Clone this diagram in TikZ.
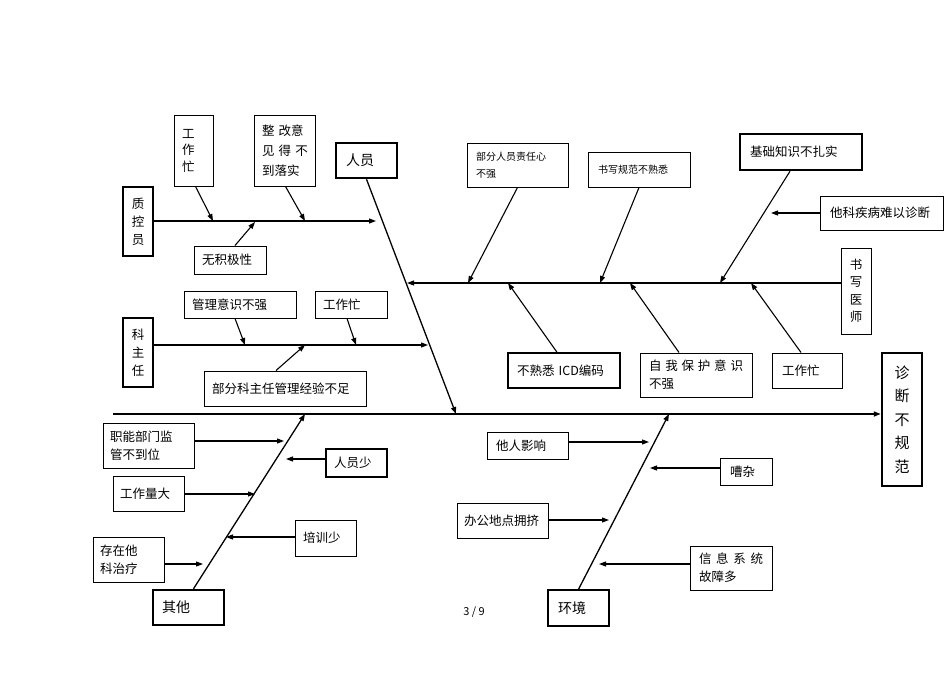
\documentclass[tikz,border=0pt]{standalone}
\usepackage{fontspec}
\setmainfont{Noto Sans CJK SC}
\usepackage{tkz-euclide}
\usetikzlibrary{calc}
\usetikzlibrary{positioning}
\usetikzlibrary{arrows.meta}

\begin{document}
\begin{tikzpicture}[x=1pt, y=-1pt,
    causebox/.style={draw, line width=1pt, inner ysep=0pt, align=left,
      font=\fontsize{12.5}{18}\selectfont},
    headbox/.style={causebox, line width=2.5pt, font=\fontsize{14}{18}\selectfont},
    vertbox/.style={causebox, inner xsep=0pt, align=center},
    arw/.style={line width=1.1pt, -{Triangle[length=7pt,width=5pt]}}]
      \useasboundingbox (0,0) rectangle (950,672);

      \tkzDefPoints{113/414/spS,456/414/ryE,305/414/qtE,669/414/hjE}
      \tkzDefPoints{376/221/zkyE,213/221/a1,305/221/a2,255/222/a3}
      \tkzDefPoints{428/345/kzrE,245/345/b1,356/345/b2,305/345/b3}
      \tkzDefPoints{407/283/sxysE,468/283/c1,600/283/c2,720/283/c3,508/283/c4,630/283/c5,751/283/c6,771/213/c7}
      \tkzDefPoints{284/441/d1,286/459/d2,255/494/d3,226/537/d4,203/564/d5}
      \tkzDefPoints{649/442/e1,650/468/e2,609/520/e3,599/564/e4}

      \node[headbox, minimum height=35pt, inner xsep=10pt, text width=41pt] (ry) at (366.5,160.5) {人员};
      \node[vertbox, line width=1.5pt, minimum width=30pt, minimum height=69pt] (zky) at (138,221.5) {质\\控\\员};
      \node[causebox, minimum height=71pt, inner xsep=8pt, text width=23pt,
        font=\fontsize{12.5}{16.5}\selectfont] (gzma) at (193.5,150.5) {工\\作\\忙};
      \node[causebox, minimum height=71pt, inner xsep=8pt, text width=45pt,
        font=\fontsize{12.5}{20}\selectfont] (zgyj) at (284.5,150.5) {整~改意\\见~得~不\\到落实};
      \node[causebox, minimum height=28pt, inner xsep=8pt, text width=56pt] (wjjx) at (230,260) {无积极性};

      \node[vertbox, line width=1.5pt, minimum width=30pt, minimum height=69pt] (kzr) at (138,352.5) {科\\主\\任};
      \node[causebox, minimum height=27pt, inner xsep=8pt, text width=96pt] (glys) at (240,304.5) {管理意识不强};
      \node[causebox, minimum height=27pt, inner xsep=8pt, text width=56pt] (gzmb) at (351,304.5) {工作忙};
      \node[causebox, minimum height=35pt, inner xsep=8pt, text width=146pt] (bfkzr) at (285,388.5) {部分科主任管理经验不足};

      \node[causebox, minimum height=44pt, inner xsep=9pt, text width=83pt,
        font=\fontsize{10}{17}\selectfont] (bfry) at (517.5,165) {部分人员责任心\\不强};
      \node[causebox, minimum height=35pt, inner xsep=10pt, text width=82pt,
        font=\fontsize{10}{14}\selectfont] (sxgf) at (639,169.5) {书写规范不熟悉};
      \node[headbox, minimum height=36pt, inner xsep=10pt, text width=102pt,
        font=\fontsize{12.5}{18}\selectfont] (jczs) at (801,152) {基础知识不扎实};
      \node[causebox, minimum height=34pt, inner xsep=10pt, text width=103pt] (tkjb) at (881.5,213) {他科疾病难以诊断};
      \node[vertbox, minimum width=30pt, minimum height=86pt,
        font=\fontsize{12.5}{17.5}\selectfont] (sxys) at (856,291) {书\\写\\医\\师};
      \node[causebox, line width=1.5pt, minimum height=35pt, inner xsep=9pt, text width=94pt] (icd) at (564,370.5) {不熟悉\ ICD编码};
      \node[causebox, minimum height=44pt, inner xsep=9pt, text width=94pt] (zwbh) at (696,375)
        {自\hfill 我\hfill 保\hfill 护\hfill 意\hfill 识\\不强};
      \node[causebox, minimum height=35pt, inner xsep=10pt, text width=50pt] (gzmc) at (807,370.5) {工作忙};

      \node[headbox, inner xsep=0pt, align=center, minimum width=40pt, minimum height=133pt,
        font=\fontsize{15}{23.5}\selectfont] (zdbgf) at (902,419.5) {诊\\断\\不\\规\\范};

      \node[headbox, minimum height=35pt, inner xsep=9pt, text width=53pt] (qt) at (188.5,607.5) {其他};
      \node[causebox, minimum height=45pt, inner xsep=7pt, text width=77pt] (znbm) at (148.5,445.5) {职能部门监\\管不到位};
      \node[causebox, line width=1.3pt, minimum height=28pt, inner xsep=8pt, text width=45pt] (rys) at (356.5,463) {人员少};
      \node[causebox, minimum height=35pt, inner xsep=7pt, text width=57pt] (gzld) at (148.5,493.5) {工作量大};
      \node[causebox, minimum height=36pt, inner xsep=8pt, text width=45pt] (pxs) at (325.5,538) {培训少};
      \node[causebox, minimum height=45pt, inner xsep=7pt, text width=57pt] (czta) at (128.5,559.5) {存在他\\科治疗};

      \node[headbox, line width=1.5pt, minimum height=36pt, inner xsep=10pt, text width=41pt] (hj) at (578.5,608) {环境};
      \node[causebox, minimum height=27pt, inner xsep=9pt, text width=63pt] (trys) at (527.5,445.5) {他人影响};
      \node[causebox, minimum height=27pt, inner xsep=10pt, text width=32pt] (zz) at (746,471.5) {嘈杂};
      \node[causebox, minimum height=35pt, inner xsep=7pt, text width=77pt] (bgdd) at (502.5,520.5) {办公地点拥挤};
      \node[causebox, minimum height=44pt, inner xsep=9pt, text width=64pt] (xxxt) at (731,568)
        {信\hfill 息\hfill 系\hfill 统\\故障多};

      \node[font=\fontsize{11}{13}\selectfont] (pgno) at (474,612) {3 / 9};

      \draw[arw, line width=1.6pt] (spS) -- (zdbgf.west |- spS);
      \draw[arw, line width=1.3pt] (ry.south) -- (ryE);
      \draw[arw, line width=1.3pt] ([xshift=5pt]qt.north) -- (qtE);
      \draw[arw, line width=1.3pt] (hj.north) -- (hjE);

      \draw[arw] (zky.east |- zkyE) -- (zkyE);
      \draw[arw] ([xshift=2pt]gzma.south) -- (a1);
      \draw[arw] ([xshift=1pt]zgyj.south) -- (a2);
      \draw[arw] ([xshift=5pt]wjjx.north) -- (a3);

      \draw[arw] (kzr.east |- kzrE) -- (kzrE);
      \draw[arw] ([xshift=-5pt]glys.south) -- (b1);
      \draw[arw] ([xshift=-4pt]gzmb.south) -- (b2);
      \draw[arw] ([xshift=-9pt]bfkzr.north) -- (b3);

      \draw[arw] (sxys.west |- sxysE) -- (sxysE);
      \draw[arw] (bfry.south) -- (c1);
      \draw[arw] (sxgf.south) -- (c2);
      \draw[arw] ([xshift=-11pt]jczs.south) -- (c3);
      \draw[arw] ([xshift=-7pt]icd.north) -- (c4);
      \draw[arw] ([xshift=-17pt]zwbh.north) -- (c5);
      \draw[arw] ([xshift=-6pt]gzmc.north) -- (c6);
      \draw[arw] (tkjb.west |- c7) -- (c7);

      \draw[arw] (znbm.east |- d1) -- (d1);
      \draw[arw] (rys.west |- d2) -- (d2);
      \draw[arw] (gzld.east |- d3) -- (d3);
      \draw[arw] (pxs.west |- d4) -- (d4);
      \draw[arw] (czta.east |- d5) -- (d5);

      \draw[arw] (trys.east |- e1) -- (e1);
      \draw[arw] (zz.west |- e2) -- (e2);
      \draw[arw] (bgdd.east |- e3) -- (e3);
      \draw[arw] (xxxt.west |- e4) -- (e4);
\end{tikzpicture}
\end{document}
